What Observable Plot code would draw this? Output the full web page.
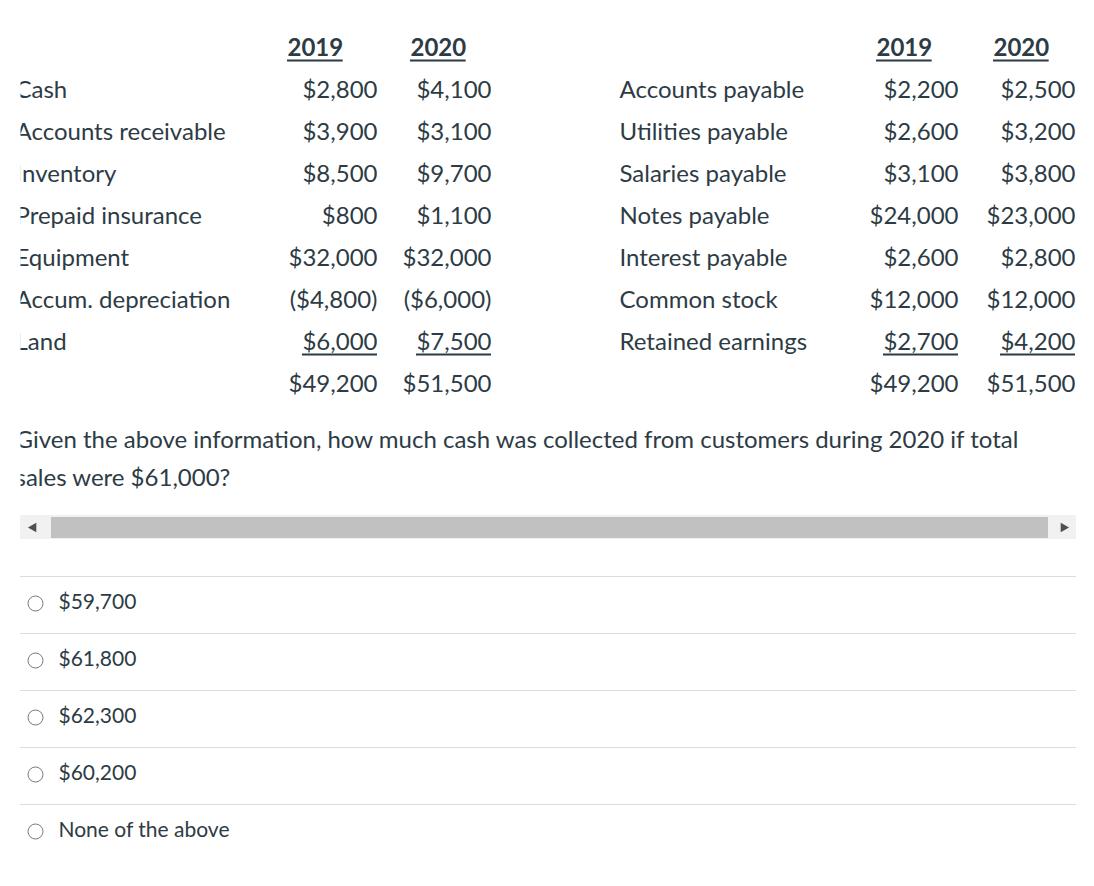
<!DOCTYPE html>
<html><head><meta charset="utf-8">
<script src="https://cdn.jsdelivr.net/npm/d3@7"></script>
<script src="https://cdn.jsdelivr.net/npm/@observablehq/plot@0.6"></script>
<style>
body{margin:0;background:#fff;}
</style></head><body><div id="chart"></div><script>
// ---- data ----
const years = ["2019", "2020"];
const assetNames = ["Cash", "Accounts receivable", "Inventory", "Prepaid insurance", "Equipment", "Accum. depreciation", "Land"];
const assets2019 = [2800, 3900, 8500, 800, 32000, -4800, 6000];
const assets2020 = [4100, 3100, 9700, 1100, 32000, -6000, 7500];
const liabNames = ["Accounts payable", "Utilities payable", "Salaries payable", "Notes payable", "Interest payable", "Common stock", "Retained earnings"];
const liab2019 = [2200, 2600, 3100, 24000, 2600, 12000, 2700];
const liab2020 = [2500, 3200, 3800, 23000, 2800, 12000, 4200];
const totals = [49200, 51500];
const questionLines = ["Given the above information, how much cash was collected from customers during 2020 if total", "sales were $61,000?"];
const options = ["$59,700", "$61,800", "$62,300", "$60,200", "None of the above"];

// ---- layout ----
const W = 1094, H = 886;
const L = {
  headerY: 48, rowTop: 90, rowStep: 42,
  labelL: 15, v19L: 377, v20L: 491, labelR: 619, v19R: 958, v20R: 1075,
  hdrL: [287, 410], hdrR: [876, 993],
  qX: 15, qTop: 440, qStep: 38, clipX: 20.5,
  scrollY1: 515, scrollY2: 539, scrollX1: 20, scrollX2: 1076, thumbX1: 51, thumbX2: 1048,
  optTop: 576, optStep: 57, radioX: 35, optTextX: 58, ulOffset: 12
};
const FS = 24, FSO = 21;
const FONT = "Lato";
const ink = "#2d3b45";
const fmt = v => v < 0 ? `($${d3.format(",")(-v)})` : `$${d3.format(",")(v)}`;
const rowY = i => L.rowTop + i * L.rowStep;

// text width measurement for underlines
const ctx = document.createElement("canvas").getContext("2d");
const measure = (t, weight) => { ctx.font = `${weight} ${FS}px ${FONT}`; return ctx.measureText(t).width; };

const plain = [], under = [], labels = [];
assetNames.forEach((n, i) => {
  labels.push({x: L.labelL, y: rowY(i), t: n});
  const last = i === assetNames.length - 1;
  (last ? under : plain).push({x: L.v19L, y: rowY(i), t: fmt(assets2019[i])});
  (last ? under : plain).push({x: L.v20L, y: rowY(i), t: fmt(assets2020[i])});
});
liabNames.forEach((n, i) => {
  labels.push({x: L.labelR, y: rowY(i), t: n});
  const last = i === liabNames.length - 1;
  (last ? under : plain).push({x: L.v19R, y: rowY(i), t: fmt(liab2019[i])});
  (last ? under : plain).push({x: L.v20R, y: rowY(i), t: fmt(liab2020[i])});
});
const totY = rowY(assetNames.length);
[[L.v19L, totals[0]], [L.v20L, totals[1]], [L.v19R, totals[0]], [L.v20R, totals[1]]]
  .forEach(([x, v]) => plain.push({x, y: totY, t: fmt(v)}));
const headers = years.flatMap((yr, j) => [
  {x: L.hdrL[j], y: L.headerY, t: yr}, {x: L.hdrR[j], y: L.headerY, t: yr}
]);
const underlines = [
  ...headers.map(d => ({y: d.y + L.ulOffset, x1: d.x, x2: d.x + measure(d.t, "bold")})),
  ...under.map(d => ({y: d.y + L.ulOffset, x1: d.x - measure(d.t, "normal"), x2: d.x}))
];
const qRows = questionLines.map((t, i) => ({x: L.qX, y: L.qTop + i * L.qStep, t}));
const opts = options.map((t, i) => ({t, sep: L.optTop + i * L.optStep, y: L.optTop + i * L.optStep + 26}));

const chart = Plot.plot({
  width: W, height: H, margin: 0,
  x: {type: "identity", axis: null},
  y: {type: "identity", axis: null},
  style: {fontFamily: `${FONT}, 'Open Sans', sans-serif`, background: "#fff", color: ink},
  marks: [
    Plot.text(headers, {x: "x", y: "y", text: "t", textAnchor: "start", fontSize: FS, fontWeight: "bold", fill: ink}),
    Plot.text(labels, {x: "x", y: "y", text: "t", textAnchor: "start", fontSize: FS, fill: ink}),
    Plot.text(plain, {x: "x", y: "y", text: "t", textAnchor: "end", fontSize: FS, fill: ink}),
    Plot.text(under, {x: "x", y: "y", text: "t", textAnchor: "end", fontSize: FS, fill: ink}),
    Plot.ruleY(underlines, {y: "y", x1: "x1", x2: "x2", stroke: ink, strokeWidth: 2}),
    Plot.text(qRows, {x: "x", y: "y", text: "t", textAnchor: "start", fontSize: FS, fill: ink}),
    // left clipping mask (page is scrolled slightly)
    Plot.rect([0], {x1: 0, x2: L.clipX, y1: 60, y2: 500, fill: "#fff"}),
    // scrollbar
    Plot.rect([0], {x1: L.scrollX1, x2: L.scrollX2, y1: L.scrollY1, y2: L.scrollY2, fill: "#f1f1f1"}),
    Plot.rect([0], {x1: L.thumbX1, x2: L.thumbX2, y1: L.scrollY1 + 2, y2: L.scrollY2 - 1, fill: "#c1c1c1"}),
    Plot.dot([{x: 33, y: 527, r: -90}, {x: 1063, y: 527, r: 90}], {x: "x", y: "y", rotate: "r", symbol: "triangle", r: 3.6, fill: "#505050", stroke: null}),
    // options
    Plot.ruleY(opts, {y: "sep", x1: 20, x2: 1076, stroke: "#dcdcdc", strokeWidth: 1}),
    Plot.dot(opts, {x: () => L.radioX, y: d => d.y + 1, r: 7.5, stroke: "#777", strokeWidth: 1, fill: "#fff"}),
    Plot.text(opts, {x: () => L.optTextX, y: "y", text: "t", textAnchor: "start", fontSize: FSO, fill: ink})
  ]
});
document.getElementById("chart").append(chart);
</script></body></html>
